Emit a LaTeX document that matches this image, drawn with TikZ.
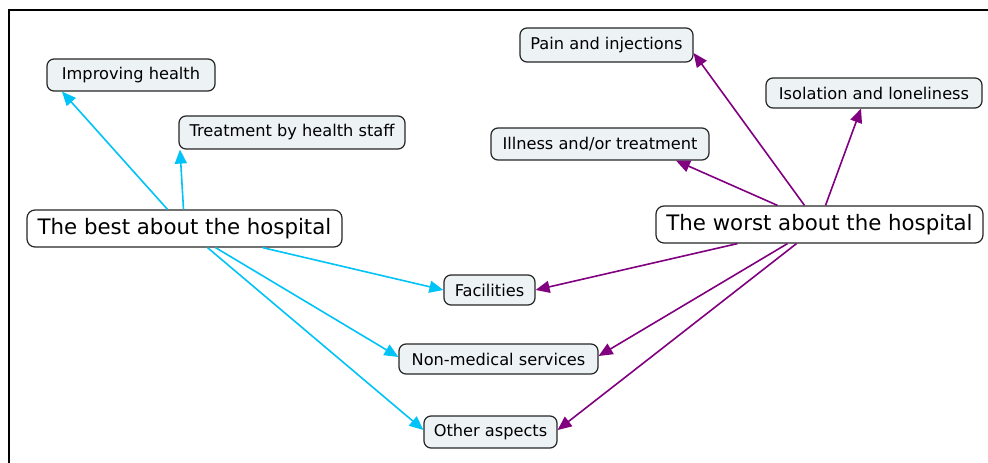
\documentclass[tikz,border=0pt]{standalone}
\usepackage{fontspec}
\setmainfont{DejaVu Sans}
\usetikzlibrary{calc,arrows.meta}
\definecolor{bluearr}{HTML}{00C3F7}
\definecolor{purparr}{HTML}{800080}
\definecolor{boxfill}{HTML}{EDF2F4}
\tikzset{
  concept/.style={draw=black!85, line width=1.2pt, rounded corners=7pt, fill=boxfill, inner sep=0pt, font=\fontsize{16.2}{18}\selectfont},
  mainconcept/.style={draw=black!85, line width=1.2pt, rounded corners=8pt, fill=white, inner sep=0pt, font=\fontsize{21.3}{24}\selectfont},
  bluelink/.style={draw=bluearr, line width=1.6pt, -{Triangle[length=14pt,width=12pt]}},
  purplink/.style={draw=purparr, line width=1.6pt, -{Triangle[length=14pt,width=12pt]}},
  frameline/.style={draw=black, line width=2pt}
}
\begin{document}
\begin{tikzpicture}[x=1pt,y=-1pt]
\useasboundingbox (0,0) rectangle (988,463);
\fill[white] (0,0) rectangle (988,463);
\draw[frameline] (9,463) -- (9,10) -- (988,10);

\node[concept, minimum width=168, minimum height=32] (imp) at (131,75) {Improving health};
\node[concept, minimum width=226, minimum height=33] (treat) at (292,132.5) {Treatment by health staff};
\node[mainconcept, minimum width=315, minimum height=37] (best) at (184.5,228.5) {The best about the hospital};
\node[mainconcept, minimum width=327, minimum height=37] (worst) at (819.5,224.5) {The worst about the hospital};
\node[concept, minimum width=173, minimum height=34] (pain) at (606.5,45) {Pain and injections};
\node[concept, minimum width=218, minimum height=32] (ill) at (600,144) {Illness and/or treatment};
\node[concept, minimum width=216, minimum height=30] (iso) at (874,93) {Isolation and loneliness};
\node[concept, minimum width=91, minimum height=30] (fac) at (489.5,290) {Facilities};
\node[concept, minimum width=199, minimum height=30] (nonmed) at (498.5,359) {Non-medical services};
\node[concept, minimum width=133, minimum height=32] (other) at (490.5,432) {Other aspects};

% blue connectors
\draw[bluelink] ($(best.north)+(-17,0)$) -- ($(imp.south)+(-69,0)$);
\draw[bluelink] ($(best.north)+(-1,0)$) -- ($(treat.south)+(-112,0)$);
\draw[bluelink] ($(best.south)+(78,0)$) -- (fac.west);
\draw[bluelink] ($(best.south)+(31,0)$) -- ($(nonmed.west)+(0,-2)$);
\draw[bluelink] ($(best.south)+(23,0)$) -- ($(other.west)+(0,-2)$);

% purple connectors
\draw[purplink] ($(worst.north)+(-15,0)$) -- ($(pain.east)+(0,8)$);
\draw[purplink] ($(worst.north)+(6,0)$) -- ($(iso.south)+(-13,0)$);
\draw[purplink] ($(worst.north)+(-42,0)$) -- ($(ill.south)+(76,0)$);
\draw[purplink] ($(worst.south)+(-82,0)$) -- (fac.east);
\draw[purplink] ($(worst.south)+(-32,0)$) -- ($(nonmed.east)+(0,-3)$);
\draw[purplink] ($(worst.south)+(-23,0)$) -- ($(other.east)+(0,-2)$);
\end{tikzpicture}
\end{document}
